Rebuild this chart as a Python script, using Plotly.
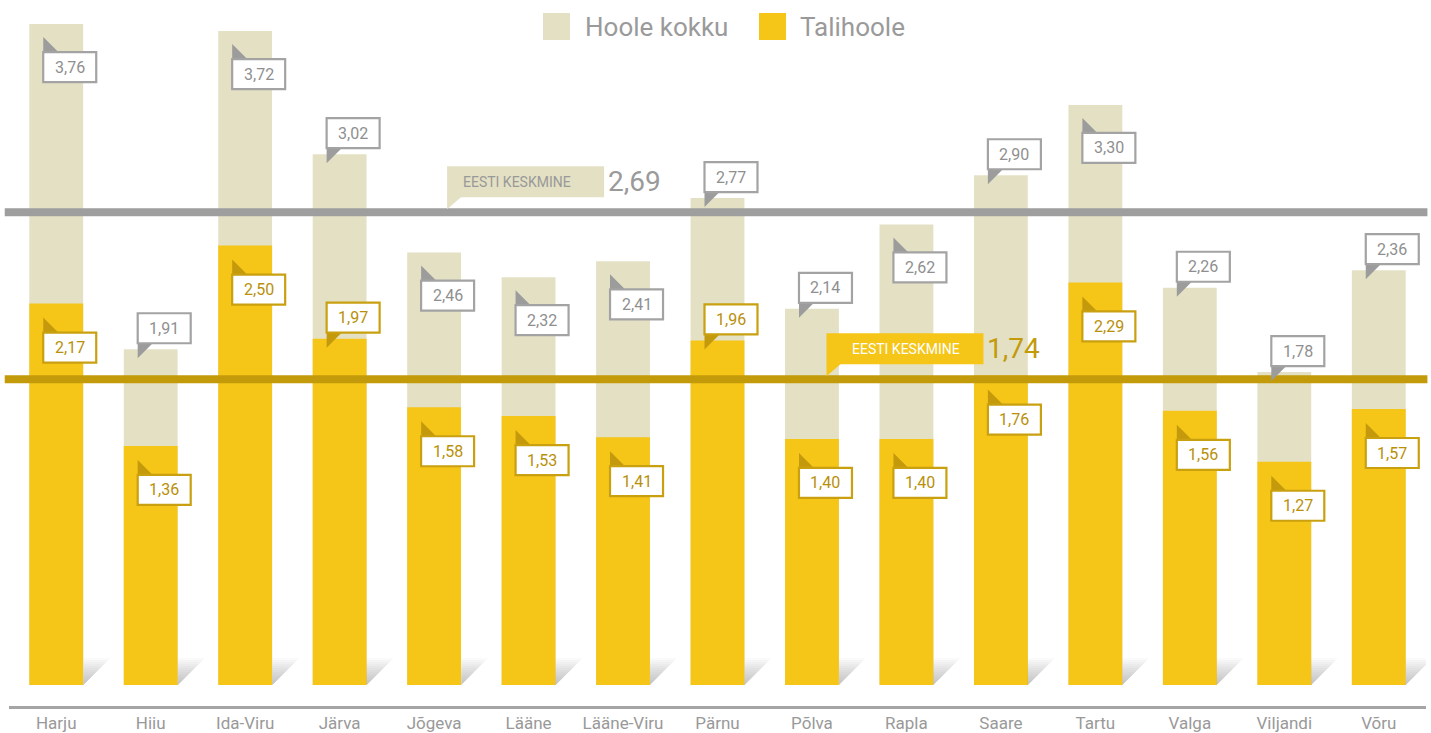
import plotly.graph_objects as go

# ---------------- data ----------------
counties = ["Harju", "Hiiu", "Ida-Viru", "Järva", "Jõgeva", "Lääne", "Lääne-Viru",
            "Pärnu", "Põlva", "Rapla", "Saare", "Tartu", "Valga", "Viljandi", "Võru"]
hoole_kokku = [3.76, 1.91, 3.72, 3.02, 2.46, 2.32, 2.41, 2.77, 2.14, 2.62, 2.90, 3.30, 2.26, 1.78, 2.36]
talihoole = [2.17, 1.36, 2.50, 1.97, 1.58, 1.53, 1.41, 1.96, 1.40, 1.40, 1.76, 2.29, 1.56, 1.27, 1.57]
avg_kokku = 2.69
avg_tali = 1.74
series_names = ["Hoole kokku", "Talihoole"]
avg_label = "EESTI KESKMINE"

# ---------------- style / layout ----------------
BEIGE = "#e4e0c4"
YELLOW = "#f5c518"
GOLD = "#c39a0a"
GOLD_TXT = "#b8900a"
GRAY_LINE = "#9e9e9e"
GRAY_TXT = "#8f8f8f"
FONT = "Roboto"
# where each callout sits relative to its bar top
total_label_side = ["below", "above", "below", "above", "below", "below", "below",
                    "above", "above", "below", "above", "below", "above", "above", "above"]
tali_label_side = ["below", "below", "below", "above", "below", "below", "below",
                   "above", "below", "below", "below", "below", "below", "below", "below"]

def fmt(v):
    return f"{v:.2f}".replace(".", ",")

x = list(range(len(counties)))

fig = go.Figure()
fig.add_trace(go.Bar(x=x, y=hoole_kokku, name=series_names[0], marker=dict(color=BEIGE, line=dict(width=0)),
                     width=0.57, showlegend=False, hoverinfo="skip"))
fig.add_trace(go.Bar(x=x, y=talihoole, name=series_names[1], marker=dict(color=YELLOW, line=dict(width=0)),
                     width=0.57, showlegend=False, hoverinfo="skip"))

shapes = []
annotations = []

def pix_path(pts):
    return "M " + " L ".join(f"{a},{b}" for a, b in pts) + " Z"

# shadows at bar feet
for i in x:
    for s in range(27, 1, -2):
        shapes.append(dict(type="path", xref="x", yref="y", xsizemode="pixel", ysizemode="pixel",
                           xanchor=i, yanchor=0, layer="above",
                           path=pix_path([(27, 0), (27 + s, s), (27, s)]),
                           fillcolor="rgba(110,110,110,0.035)", line=dict(width=0)))

# average lines
for val, col in [(avg_kokku, GRAY_LINE), (avg_tali, GOLD)]:
    shapes.append(dict(type="line", xref="paper", yref="y", x0=-0.003, x1=1.001, y0=val, y1=val,
                       line=dict(color=col, width=8), layer="above"))

# average callouts
for val, anchor_i, box_col, txt_col, num_col, txt_dx, x0 in [
        (avg_kokku, 4, BEIGE, "#999999", "#9a9a9a", 83, 13),
        (avg_tali, 8, YELLOW, "#ffffff", GOLD, 94, 14.5)]:
    shapes.append(dict(type="rect", xref="x", yref="y", xsizemode="pixel", ysizemode="pixel",
                       xanchor=anchor_i, yanchor=val, x0=x0, x1=x0 + 157, y0=15, y1=46,
                       fillcolor=box_col, line=dict(width=0), layer="above"))
    shapes.append(dict(type="path", xref="x", yref="y", xsizemode="pixel", ysizemode="pixel",
                       xanchor=anchor_i, yanchor=val,
                       path=pix_path([(x0, 16), (x0 + 15, 16), (x0, 3)]),
                       fillcolor=box_col, line=dict(width=0), layer="above"))
    annotations.append(dict(x=anchor_i, y=val, xref="x", yref="y", xshift=txt_dx, yshift=30.5,
                            text=avg_label, showarrow=False, xanchor="center", yanchor="middle",
                            font=dict(family=FONT, size=14, color=txt_col)))
    annotations.append(dict(x=anchor_i, y=val, xref="x", yref="y", xshift=x0 + 159, yshift=30.5,
                            text=fmt(val), showarrow=False, xanchor="left", yanchor="middle",
                            font=dict(family=FONT, size=28, color=num_col)))

def callout(i, val, side, tri_col, border_col, txt_col, below_off):
    if side == "below":
        by0, by1 = -below_off, -below_off - 30
        tri = [(-13, -below_off), (-13, -below_off + 15), (2, -below_off)]
    else:
        by0, by1 = 6, 36
        tri = [(-13, 6), (2, 6), (-13, -9)]
    shapes.append(dict(type="path", xref="x", yref="y", xsizemode="pixel", ysizemode="pixel",
                       xanchor=i, yanchor=val, path=pix_path(tri),
                       fillcolor=tri_col, line=dict(width=0), layer="above"))
    shapes.append(dict(type="rect", xref="x", yref="y", xsizemode="pixel", ysizemode="pixel",
                       xanchor=i, yanchor=val, x0=-13, x1=40, y0=by0, y1=by1,
                       fillcolor="white", line=dict(color=border_col, width=2.2), layer="above"))
    annotations.append(dict(x=i, y=val, xref="x", yref="y", xshift=13.5, yshift=(by0 + by1) / 2,
                            text=fmt(val), showarrow=False, xanchor="center", yanchor="middle",
                            font=dict(family=FONT, size=16, color=txt_col)))

for i in x:
    callout(i, hoole_kokku[i], total_label_side[i], "#9c9c9c", "#a3a3a3", GRAY_TXT, 28)
    callout(i, talihoole[i], tali_label_side[i], "#c49a0c", "#c9a010", GOLD_TXT, 29)

# custom legend
for name, col, sx, tx in [(series_names[0], BEIGE, 534, 574), (series_names[1], YELLOW, 750, 789)]:
    shapes.append(dict(type="rect", xref="paper", yref="paper", xsizemode="pixel", ysizemode="pixel",
                       xanchor=0, yanchor=1, x0=sx, x1=sx + 27, y0=-3, y1=-30,
                       fillcolor=col, line=dict(width=0), layer="above"))
    annotations.append(dict(x=0, y=1, xref="paper", yref="paper", xshift=tx, yshift=-16.5,
                            text=name, showarrow=False, xanchor="left", yanchor="middle",
                            font=dict(family=FONT, size=26, color="#9a9a9a")))

fig.update_layout(
    template="none",
    width=1431, height=733,
    margin=dict(l=9, r=5, t=10, b=27, pad=0),
    paper_bgcolor="white", plot_bgcolor="white",
    barmode="overlay",
    shapes=shapes, annotations=annotations,
    showlegend=False,
    xaxis=dict(range=[-0.5, len(counties) - 0.5], tickmode="array", tickvals=x, ticktext=counties,
               showgrid=False, zeroline=False, showline=True, linecolor="#a5a5a5", linewidth=3,
               ticks="", automargin=False,
               tickfont=dict(family=FONT, size=17, color="#999999")),
    yaxis=dict(range=[-0.1195, 3.840], showgrid=False, zeroline=False, showline=False,
               showticklabels=False, ticks="", automargin=False),
)

fig.write_html("out.html", config={"displayModeBar": False},
               post_script="document.body.style.margin='0';document.body.style.padding='0';"
                           "document.body.style.overflow='hidden';")
